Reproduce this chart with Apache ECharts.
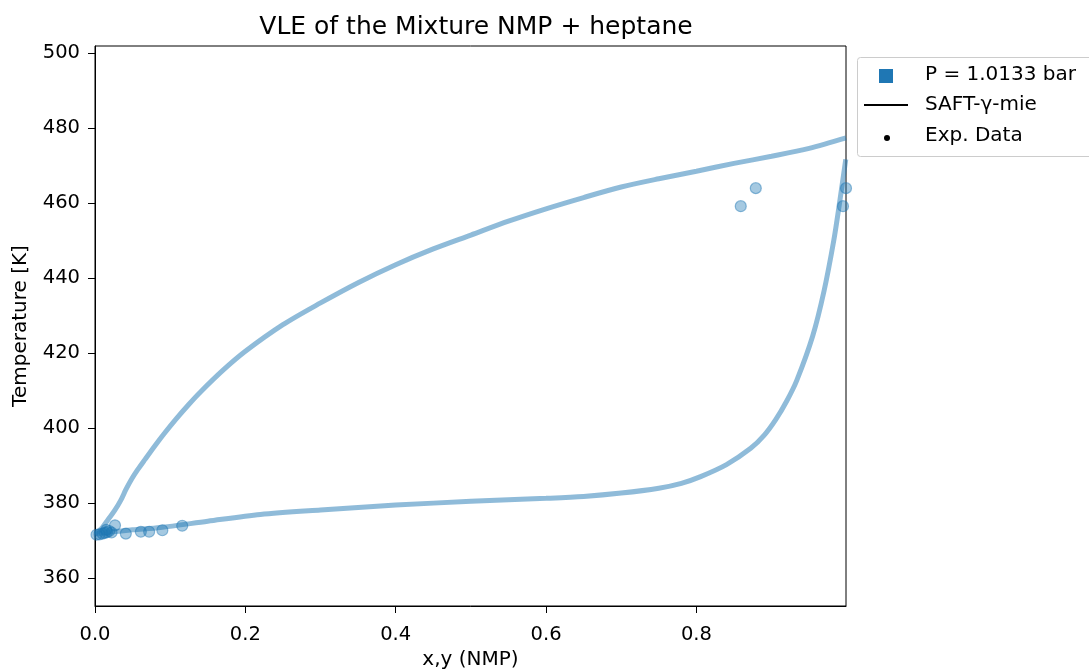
<!DOCTYPE html>
<html>
<head>
<meta charset="utf-8">
<script src="https://cdn.jsdelivr.net/npm/echarts@6/dist/echarts.min.js"></script>
<style>html,body{margin:0;padding:0;background:#fff;}#c{width:1089px;height:669px;}</style>
</head>
<body>
<div id="c"></div>
<script>
// Bubble curve (liquid composition x vs T)
const bubbleX = [0, 0.02, 0.05, 0.087, 0.15, 0.22, 0.3, 0.4, 0.5, 0.6, 0.65, 0.7, 0.75, 0.78, 0.8056, 0.84, 0.8722, 0.89, 0.9055, 0.92, 0.9334, 0.9547, 0.97, 0.9827, 0.99, 0.9987];
const bubbleT = [371.8, 372.3, 372.9, 373.5, 375.2, 377.0, 378.2, 379.5, 380.5, 381.3, 381.8, 382.7, 384.0, 385.3, 387.1, 390.3, 394.65, 398.1, 402.3, 407.2, 412.7, 424.6, 436.8, 450.0, 459.5, 471.7];
// Dew curve (vapour composition y vs T)
const dewY = [0, 0.005, 0.01, 0.0173, 0.026, 0.0346, 0.041, 0.048, 0.057, 0.0666, 0.08, 0.0932, 0.108, 0.125, 0.14, 0.17, 0.2, 0.25, 0.3, 0.35, 0.4, 0.45, 0.5, 0.55, 0.6, 0.65, 0.7, 0.75, 0.8, 0.85, 0.9, 0.95, 0.999];
const dewT = [371.8, 372.6, 373.6, 375.6, 378.0, 380.9, 383.6, 386.2, 389.0, 391.7, 395.4, 398.85, 402.5, 406.4, 409.6, 415.4, 420.5, 427.6, 433.4, 438.8, 443.6, 447.8, 451.5, 455.2, 458.5, 461.5, 464.3, 466.5, 468.5, 470.6, 472.5, 474.6, 477.4];
// Experimental data
const expX = [0.002, 0.006, 0.010, 0.013, 0.016, 0.019, 0.022, 0.015, 0.0266, 0.041, 0.061, 0.072, 0.0896, 0.116, 0.859, 0.879, 0.995, 0.999];
const expT = [371.6, 371.7, 371.9, 372.1, 372.3, 372.6, 372.2, 372.9, 374.1, 371.9, 372.4, 372.4, 372.8, 374.0, 459.2, 464.0, 459.2, 464.0];
// Ticks
const xTicks = [0, 0.2, 0.4, 0.6, 0.8];
const yTicks = [360, 380, 400, 420, 440, 460, 480, 500];

const lineColor = 'rgba(31,119,180,0.5)';
const font = 'DejaVu Sans';
const chart = echarts.init(document.getElementById('c'));
chart.setOption({
  animation: false,
  backgroundColor: '#fff',
  title: {
    text: 'VLE of the Mixture NMP + heptane',
    left: 471, top: 10, textAlign: 'center',
    textStyle: {fontFamily: font, fontSize: 25, fontWeight: 'normal', color: '#000'}
  },
  grid: {left: 95, right: 243, top: 46, bottom: 63, containLabel: false, outerBoundsMode: 'none',
         show: true, borderColor: '#000', borderWidth: 1, backgroundColor: 'transparent'},
  xAxis: {
    type: 'value', min: 0, max: 0.999,
    name: 'x,y (NMP)', nameLocation: 'middle', nameGap: 43,
    nameTextStyle: {fontFamily: font, fontSize: 20, color: '#000'},
    axisLine: {show: true, onZero: false, lineStyle: {color: '#000', width: 1}},
    axisTick: {show: true, length: 7, customValues: xTicks, lineStyle: {color: '#000'}},
    axisLabel: {customValues: xTicks, margin: 19, fontFamily: font, fontSize: 19.5, color: '#000', formatter: v => v.toFixed(1)},
    splitLine: {show: false}
  },
  yAxis: {
    type: 'value', min: 352.6, max: 501.9,
    name: 'Temperature [K]', nameLocation: 'middle', nameGap: 64, nameRotate: 90,
    nameTextStyle: {fontFamily: font, fontSize: 20, color: '#000'},
    axisLine: {show: true, onZero: false, lineStyle: {color: '#000', width: 1}},
    axisTick: {show: true, length: 7, customValues: yTicks, lineStyle: {color: '#000'}},
    axisLabel: {customValues: yTicks, margin: 15, fontFamily: font, fontSize: 19.5, color: '#000'},
    splitLine: {show: false}
  },
  series: [
    {type: 'line', data: bubbleX.map((x, i) => [x, bubbleT[i]]), smooth: 0.3, symbol: 'none',
     lineStyle: {color: lineColor, width: 5}, clip: true, z: 2},
    {type: 'line', data: dewY.map((y, i) => [y, dewT[i]]), smooth: 0.3, symbol: 'none',
     lineStyle: {color: lineColor, width: 5}, clip: true, z: 2},
    {type: 'scatter', data: expX.map((x, i) => [x, expT[i]]), symbol: 'circle', symbolSize: 11,
     itemStyle: {color: 'rgba(31,119,180,0.5)', borderColor: 'rgba(31,119,180,0.6)', borderWidth: 1.2},
     clip: false, z: 3}
  ],
  graphic: [
    {type: 'rect', shape: {x: 857.5, y: 57.5, width: 240, height: 99, r: 3},
     style: {fill: 'rgba(255,255,255,0.8)', stroke: '#cccccc', lineWidth: 1}, z: 10},
    {type: 'rect', shape: {x: 879, y: 69, width: 14, height: 14}, style: {fill: '#1f77b4'}, z: 11},
    {type: 'text', x: 925, y: 75, style: {text: 'P = 1.0133 bar', fontFamily: font, fontSize: 20, fill: '#000', verticalAlign: 'middle'}, z: 11},
    {type: 'line', shape: {x1: 864, y1: 105, x2: 908, y2: 105}, style: {stroke: '#000', lineWidth: 2}, z: 11},
    {type: 'text', x: 925, y: 105, style: {text: 'SAFT-γ-mie', fontFamily: font, fontSize: 20, fill: '#000', verticalAlign: 'middle'}, z: 11},
    {type: 'circle', shape: {cx: 887, cy: 138, r: 3}, style: {fill: '#000'}, z: 11},
    {type: 'text', x: 925, y: 136, style: {text: 'Exp. Data', fontFamily: font, fontSize: 20, fill: '#000', verticalAlign: 'middle'}, z: 11}
  ]
});
</script>
</body>
</html>
